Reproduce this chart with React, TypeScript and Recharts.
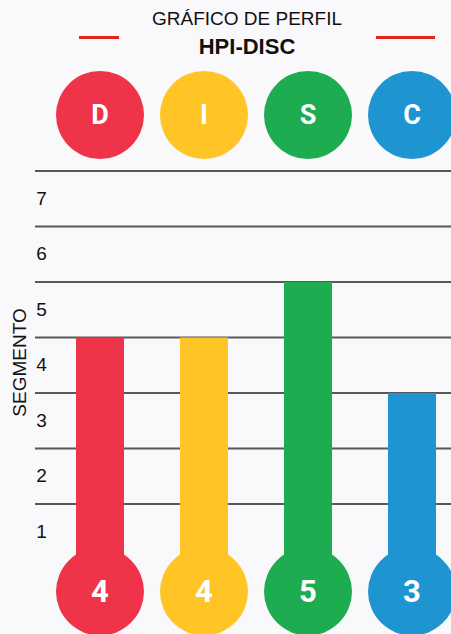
import React from 'react';
import {
  Bar,
  BarChart,
  CartesianGrid,
  Cell,
  LabelList,
  XAxis,
  YAxis,
} from 'recharts';

const factors = ['D', 'I', 'S', 'C'];
const scores = [4, 4, 5, 3];
const colors = ['#ef3349', '#ffc425', '#1dac50', '#1e95d0'];
const segmentTicks = [1, 2, 3, 4, 5, 6, 7];

const data = factors.map((f, i) => ({ factor: f, score: scores[i] }));

const BG = '#f9f8fb';
const GRID = '#58585a';

// línea de grilla extendida hasta el borde izquierdo de las etiquetas
const GridLine = (props: any) => {
  // sin línea en la base (valor 0)
  if (Math.abs(props.y1 - (props.y + props.height)) < 1) return <g key="base" />;
  return (
    <line
      key={props.key ?? props.y1}
      x1={35}
      x2={451}
      y1={props.y1}
      y2={props.y2}
      stroke={GRID}
      strokeWidth={2}
    />
  );
};

// círculos con la letra encima del gráfico
const FactorTick = (props: any) => {
  const { x, y, payload } = props;
  const color = colors[payload.index] ?? '#999';
  const cy = y - 56;
  return (
    <g>
      <circle cx={x} cy={cy} r={44} fill={color} />
      <text
        x={x}
        y={cy}
        textAnchor="middle"
        dominantBaseline="central"
        fill="#fff"
        fontFamily="Roboto, sans-serif"
        fontWeight={700}
        fontSize={27}
      >
        {payload.value}
      </text>
    </g>
  );
};

// etiquetas del eje, centradas en cada franja
const SegmentTick = (props: any) => {
  const { y, payload } = props;
  return (
    <text
      x={41.5}
      y={y + 27}
      textAnchor="middle"
      dominantBaseline="central"
      fill="#111"
      fontFamily="'Liberation Sans', Arial, sans-serif"
      fontSize={19}
    >
      {payload.value}
    </text>
  );
};

// círculo con el puntaje al pie de cada barra
const ScoreBulb = (props: any) => {
  const { x, y, width, height, value, index } = props;
  const cx = x + width / 2;
  const cy = y + height + 32;
  return (
    <g>
      <circle cx={cx} cy={cy} r={44} fill={colors[index]} />
      <text
        x={cx}
        y={cy}
        textAnchor="middle"
        dominantBaseline="central"
        fill="#fff"
        fontFamily="Roboto, sans-serif"
        fontWeight={700}
        fontSize={31}
      >
        {value}
      </text>
    </g>
  );
};

export default function App(): React.JSX.Element {
  return (
    <div
      style={{
        position: 'absolute',
        left: 0,
        top: 0,
        width: 451,
        height: 634,
        background: BG,
        overflow: 'hidden',
      }}
    >
      <style>{`body{margin:0;background:${BG};}`}</style>
      <div
        style={{
          position: 'absolute',
          left: 0,
          top: 8,
          width: 494,
          textAlign: 'center',
          fontFamily: "'Liberation Sans', Arial, sans-serif",
          fontSize: 19,
          color: '#111',
        }}
      >
        GRÁFICO DE PERFIL
      </div>
      <div
        style={{
          position: 'absolute',
          left: 0,
          top: 34,
          width: 494,
          textAlign: 'center',
          fontFamily: "'Liberation Sans', Arial, sans-serif",
          fontSize: 22,
          fontWeight: 700,
          color: '#111',
        }}
      >
        HPI-DISC
      </div>
      <div style={{ position: 'absolute', left: 79, top: 36, width: 40, height: 3, background: '#e52222' }} />
      <div style={{ position: 'absolute', left: 376, top: 36, width: 59, height: 3, background: '#e52222' }} />
      <div style={{ position: 'absolute', left: 0, top: 0 }}>
        <BarChart
          width={451}
          height={634}
          data={data}
          margin={{ top: 141, right: -13, bottom: 74.5, left: 0 }}
          barSize={48}
        >
          <CartesianGrid vertical={false} horizontal={GridLine} />
          <XAxis
            dataKey="factor"
            orientation="top"
            axisLine={false}
            tickLine={false}
            tickSize={0}
            tickMargin={0}
            tick={FactorTick}
            height={30}
            interval={0}
          />
          <YAxis
            type="number"
            domain={[0, 7]}
            ticks={segmentTicks}
            axisLine={false}
            tickLine={false}
            tick={SegmentTick}
            width={48}
            interval={0}
            label={{
              content: () => {
                const cx = 19;
                const cy = 362.5;
                return (
                  <text
                    x={cx}
                    y={cy}
                    transform={`rotate(-90, ${cx}, ${cy})`}
                    textAnchor="middle"
                    dominantBaseline="central"
                    fill="#111"
                    fontFamily="'Liberation Sans', Arial, sans-serif"
                    fontSize={19}
                  >
                    SEGMENTO
                  </text>
                );
              },
            }}
          />
          <Bar dataKey="score" isAnimationActive={false}>
            {data.map((d, i) => (
              <Cell key={d.factor} fill={colors[i]} />
            ))}
            <LabelList dataKey="score" content={ScoreBulb} />
          </Bar>
        </BarChart>
      </div>
    </div>
  );
}
